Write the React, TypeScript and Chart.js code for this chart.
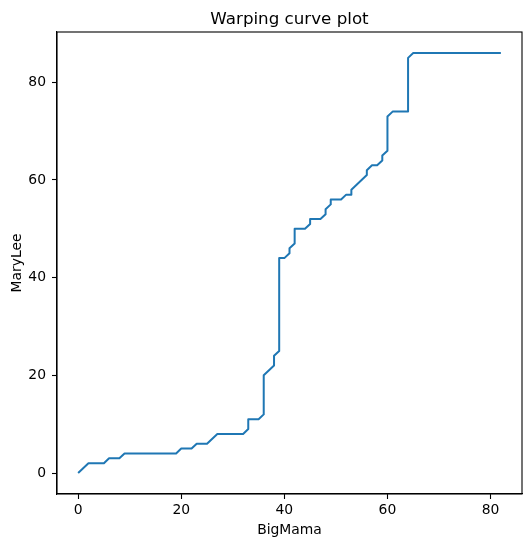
import React, { useEffect, useRef } from "react";
import { Chart, registerables } from "chart.js";

Chart.register(...registerables);

// Warping path (corner points of the DTW alignment path)
const pathBigMama: number[] = [
  0, 2, 5, 6, 8, 9, 19, 20, 22, 23, 25, 27, 32, 33, 33, 35, 36, 36, 38, 38, 39, 39,
  40, 41, 41, 42, 42, 44, 45, 45, 47, 48, 48, 49, 49, 51, 52, 53, 53, 56, 56, 57,
  58, 59, 59, 60, 60, 61, 64, 64, 65, 82,
];
const pathMaryLee: number[] = [
  0, 2, 2, 3, 3, 4, 4, 5, 5, 6, 6, 8, 8, 9, 11, 11, 12, 20, 22, 24, 25, 44,
  44, 45, 46, 47, 50, 50, 51, 52, 52, 53, 54, 55, 56, 56, 57, 57, 58, 61, 62, 63,
  63, 64, 65, 66, 73, 74, 74, 85, 86, 86,
];
const xTickValues: number[] = [0, 20, 40, 60, 80];
const yTickValues: number[] = [0, 20, 40, 60, 80];

const chartTitle = "Warping curve plot";
const xLabel = "BigMama";
const yLabel = "MaryLee";

const FONT = "'DejaVu Sans', sans-serif";

export default function App() {
  const ref = useRef<HTMLCanvasElement | null>(null);

  useEffect(() => {
    document.body.style.margin = "0";
    const canvas = ref.current;
    if (!canvas) return;

    const points = pathBigMama.map((x, i) => ({ x, y: pathMaryLee[i] }));

    const framePlugin = {
      id: "frameAndTitle",
      afterDraw(chart: any) {
        const { ctx, chartArea } = chart;
        ctx.save();
        ctx.strokeStyle = "#000";
        ctx.lineWidth = 1.1;
        ctx.strokeRect(
          chartArea.left,
          chartArea.top,
          chartArea.right - chartArea.left,
          chartArea.bottom - chartArea.top
        );
        ctx.fillStyle = "#000";
        ctx.font = `16.7px ${FONT}`;
        ctx.textAlign = "center";
        ctx.textBaseline = "alphabetic";
        ctx.fillText(chartTitle, (chartArea.left + chartArea.right) / 2, 24);
        ctx.restore();
      },
    };

    const chart = new Chart(canvas, {
      type: "line",
      data: {
        datasets: [
          {
            data: points,
            borderColor: "#1f77b4",
            borderWidth: 2,
            pointRadius: 0,
            tension: 0,
            fill: false,
            borderJoinStyle: "round",
          },
        ],
      },
      options: {
        responsive: false,
        animation: false,
        layout: { padding: { top: 32, right: 9, left: 0, bottom: 0 } },
        plugins: {
          legend: { display: false },
          title: { display: false },
          tooltip: { enabled: false },
        },
        scales: {
          x: {
            type: "linear",
            min: -4.1,
            max: 86.1,
            afterBuildTicks: (s: any) => {
              s.ticks = xTickValues.map((v) => ({ value: v }));
            },
            afterFit: (s: any) => {
              s.height = 53;
            },
            grid: {
              drawOnChartArea: false,
              drawTicks: true,
              tickLength: 5,
              tickColor: "#000",
              tickWidth: 1.1,
            },
            border: { display: true, color: "#000", width: 1.1 },
            ticks: {
              color: "#000",
              font: { family: FONT, size: 13.9 },
              padding: 3,
              maxRotation: 0,
              autoSkip: false,
            },
            title: {
              display: true,
              text: xLabel,
              color: "#000",
              font: { family: FONT, size: 13.9 },
              padding: { top: 4, bottom: 8 },
            },
          },
          y: {
            type: "linear",
            min: -4.3,
            max: 90.3,
            afterBuildTicks: (s: any) => {
              s.ticks = yTickValues.map((v) => ({ value: v }));
            },
            afterFit: (s: any) => {
              s.width = 57;
            },
            grid: {
              drawOnChartArea: false,
              drawTicks: true,
              tickLength: 5,
              tickColor: "#000",
              tickWidth: 1.1,
            },
            border: { display: true, color: "#000", width: 1.1 },
            ticks: {
              color: "#000",
              font: { family: FONT, size: 13.9 },
              padding: 6,
              autoSkip: false,
            },
            title: {
              display: true,
              text: yLabel,
              color: "#000",
              font: { family: FONT, size: 13.9 },
              padding: { top: 9, bottom: 0 },
            },
          },
        },
      },
      plugins: [framePlugin],
    } as any);

    return () => chart.destroy();
  }, []);

  return (
    <div style={{ width: 531, height: 547 }}>
      <canvas ref={ref} width={531} height={547} style={{ display: "block" }} />
    </div>
  );
}
